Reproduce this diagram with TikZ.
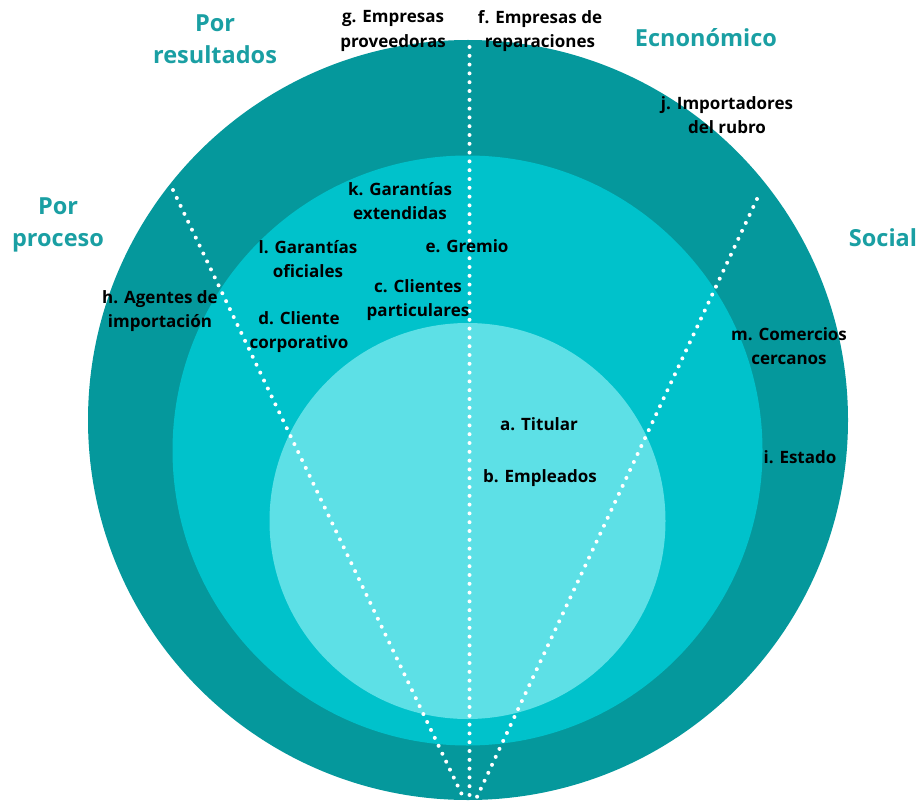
\documentclass[tikz,border=0pt]{standalone}
\usepackage{fontspec}
\setmainfont{Open Sans}
\definecolor{ringout}{HTML}{05989C}
\definecolor{ringmid}{HTML}{00C2CB}
\definecolor{ringin}{HTML}{5DE0E6}
\definecolor{headteal}{HTML}{1A9FA3}
\begin{document}
\begin{tikzpicture}[x=1pt,y=-1pt,
  lbl/.style={align=center,inner sep=0pt,text=black,
    font=\fontsize{17}{24.5}\selectfont\bfseries},
  head/.style={align=center,inner sep=0pt,text=headteal,
    font=\fontsize{23.5}{32}\selectfont\bfseries},
  divider/.style={white,line width=4pt,line cap=round,
    dash pattern=on 0pt off 8.8pt}]
\useasboundingbox (0,0) rectangle (920,802);
% stakeholder rings
\fill[ringout] (468,420) circle[radius=380];
\fill[ringmid] (467.5,450.5) circle[radius=295];
\fill[ringin] (467.5,521) circle[radius=198];
% dotted sector dividers
\coordinate (vt) at (469.5,47);
\coordinate (vb) at (469.5,799);
\coordinate (lt) at (173,190);
\coordinate (lb) at (464,799);
\coordinate (rt) at (757,199);
\coordinate (rb) at (476,799);
\draw[divider] (vt) -- (vb);
\draw[divider] (lt) -- (lb);
\draw[divider] (rt) -- (rb);
% sector headings
\node[head] (hres) at (215,39) {Por\\resultados};
\node[head] (heco) at (706,38) {Ecnonómico};
\node[head] (hpro) at (58,225) {Por\\proceso};
\node[head] (hsoc) at (883,238) {Social};
% stakeholders
\node[lbl] (g) at (393,31) {g. Empresas\\proveedoras};
\node[lbl] (f) at (540,31) {f. Empresas de\\reparaciones};
\node[lbl] (j) at (727,115) {j. Importadores\\del rubro};
\node[lbl] (k) at (400,201) {k. Garantías\\extendidas};
\node[lbl] (l) at (308,259) {l. Garantías\\oficiales};
\node[lbl] (e) at (467,246) {e. Gremio};
\node[lbl] (c) at (418,300) {c. Clientes\\particulares};
\node[lbl] (h) at (160,311) {h. Agentes de\\importación};
\node[lbl] (d) at (299,332) {d. Cliente\\corporativo};
\node[lbl] (m) at (789,346) {m. Comercios\\cercanos};
\node[lbl] (a) at (539,424) {a. Titular};
\node[lbl] (b) at (540,478) {b. Empleados};
\node[lbl] (i) at (800,457) {i. Estado};
\end{tikzpicture}
\end{document}
